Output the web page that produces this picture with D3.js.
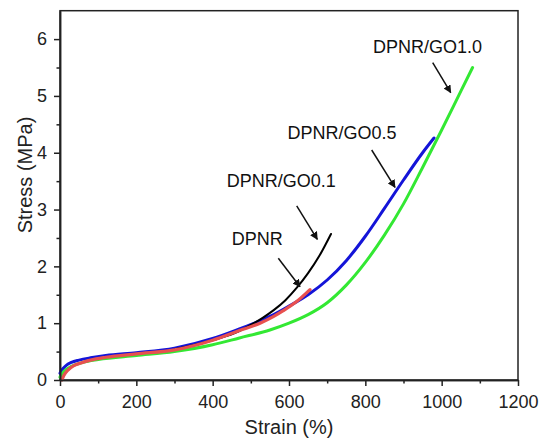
<!DOCTYPE html>
<html><head><meta charset="utf-8">
<script src="https://cdn.jsdelivr.net/npm/d3@7"></script>
<style>
html,body{margin:0;padding:0;background:#fff;}
svg{display:block;font-family:"Liberation Sans",Arial,sans-serif;}
</style></head>
<body><svg id="c" width="544" height="442"></svg>
<script>
// ---- data (strain %, stress MPa) ----
const blueStrain  = [0,5,15,30,50,80,120,200,300,400,470,520,560,600,650,700,750,800,850,900,950,980];
const blueStress  = [0.12,0.18,0.25,0.31,0.35,0.39,0.43,0.48,0.56,0.73,0.90,1.03,1.15,1.30,1.50,1.76,2.10,2.53,3.02,3.52,4.00,4.26];
const greenStrain = [0,10,30,60,100,200,300,400,470,550,600,650,700,750,800,850,900,950,1000,1050,1081];
const greenStress = [0.05,0.15,0.24,0.31,0.36,0.43,0.50,0.62,0.74,0.88,1.00,1.15,1.36,1.67,2.07,2.55,3.10,3.74,4.40,5.08,5.50];
const redStrain   = [5,10,20,35,55,80,120,200,300,400,470,524,560,585,620,655];
const redStress   = [0.0,0.08,0.17,0.25,0.30,0.35,0.40,0.46,0.53,0.70,0.87,1.00,1.12,1.22,1.38,1.59];
const blackStrain = [300,400,470,500,530,560,590,620,650,680,710];
const blackStress = [0.54,0.70,0.86,0.97,1.09,1.23,1.40,1.62,1.88,2.19,2.57];

const xTicks = [0,200,400,600,800,1000,1200];
const xMinor = [100,300,500,700,900,1100];
const yTicks = [0,1,2,3,4,5,6];
const yMinor = [0.5,1.5,2.5,3.5,4.5,5.5];

// annotations: label text, label anchor (data), arrow from -> to (data)
const annLabels = ["DPNR/GO1.0","DPNR/GO0.5","DPNR/GO0.1","DPNR"];
const annLabelX = [820,596,437,450];
const annLabelY = [5.755,4.240,3.400,2.376];
const arrowX1 = [976.5,816.7,620.2,572.0];
const arrowY1 = [5.585,4.048,3.063,2.142];
const arrowX2 = [1023.7,877.7,674.2,628.8];
const arrowY2 = [5.057,3.392,2.476,1.642];

const series = [
  {name:"DPNR/GO0.5", xs:blueStrain,  ys:blueStress,  color:"#1414d8", w:3},
  {name:"DPNR/GO1.0", xs:greenStrain, ys:greenStress, color:"#33e833", w:3},
  {name:"DPNR/GO0.1", xs:blackStrain, ys:blackStress, color:"#000000", w:2},
  {name:"DPNR",       xs:redStrain,   ys:redStress,   color:"#e8504f", w:3.2}
];

const svg = d3.select("#c");
const L=60,R=518,T=10.7,B=380;
const x = d3.scaleLinear().domain([0,1200]).range([L,R]);
const y = d3.scaleLinear().domain([0,6.5]).range([B,T]);

// frame
svg.append("rect").attr("x",L).attr("y",T).attr("width",R-L).attr("height",B-T)
  .attr("fill","none").attr("stroke","#222").attr("stroke-width",1.5);

const line = d3.line().x(d=>x(d[0])).y(d=>y(d[1])).curve(d3.curveMonotoneX);
const plot = svg.append("g");
series.forEach(s=>{
  const pts = s.xs.map((v,i)=>[v,s.ys[i]]);
  plot.append("path").attr("d",line(pts)).attr("fill","none")
    .attr("stroke",s.color).attr("stroke-width",s.w).attr("stroke-linejoin","round").attr("stroke-linecap","round");
});

// axes
const fs = "18px";
const gx = svg.append("g").attr("transform",`translate(0,${B})`);
gx.call(d3.axisBottom(x).tickValues(xTicks).tickSize(6).tickPadding(9).tickSizeOuter(0).tickFormat(d3.format("d")));
const gxm = svg.append("g").attr("transform",`translate(0,${B})`);
gxm.call(d3.axisBottom(x).tickValues(xMinor).tickSize(3.5).tickSizeOuter(0).tickFormat(""));
const gy = svg.append("g").attr("transform",`translate(${L},0)`);
gy.call(d3.axisLeft(y).tickValues(yTicks).tickSize(6).tickPadding(7).tickSizeOuter(0).tickFormat(d3.format("d")));
const gym = svg.append("g").attr("transform",`translate(${L},0)`);
gym.call(d3.axisLeft(y).tickValues(yMinor).tickSize(3.5).tickSizeOuter(0).tickFormat(""));
[gx,gxm,gy,gym].forEach(g=>{
  g.select(".domain").attr("stroke","#222").attr("stroke-width",1.5);
  g.selectAll(".tick line").attr("stroke","#222").attr("stroke-width",1.5);
  g.selectAll("text").attr("font-size",fs).attr("font-family","Liberation Sans, Arial, sans-serif").attr("fill","#222");
});

// axis titles
svg.append("text").attr("x",(L+R)/2).attr("y",434).attr("text-anchor","middle")
  .attr("font-size","20px").attr("fill","#222").text("Strain (%)");
svg.append("text").attr("transform","translate(31.5,175) rotate(-90)").attr("text-anchor","middle")
  .attr("font-size","20px").attr("fill","#222").text("Stress (MPa)");

// annotations
svg.append("defs").append("marker").attr("id","ah").attr("viewBox","0 0 10 10")
  .attr("refX",9).attr("refY",5).attr("markerWidth",8).attr("markerHeight",8)
  .attr("markerUnits","userSpaceOnUse").attr("orient","auto")
  .append("path").attr("d","M0,0 L10,5 L0,10 Z").attr("fill","#111");
annLabels.forEach((t,i)=>{
  svg.append("text").attr("x",x(annLabelX[i])).attr("y",y(annLabelY[i]))
    .attr("font-size","18px").attr("fill","#111").text(t);
  svg.append("line").attr("x1",x(arrowX1[i])).attr("y1",y(arrowY1[i]))
    .attr("x2",x(arrowX2[i])).attr("y2",y(arrowY2[i]))
    .attr("stroke","#111").attr("stroke-width",1.5).attr("marker-end","url(#ah)");
});
</script></body></html>
